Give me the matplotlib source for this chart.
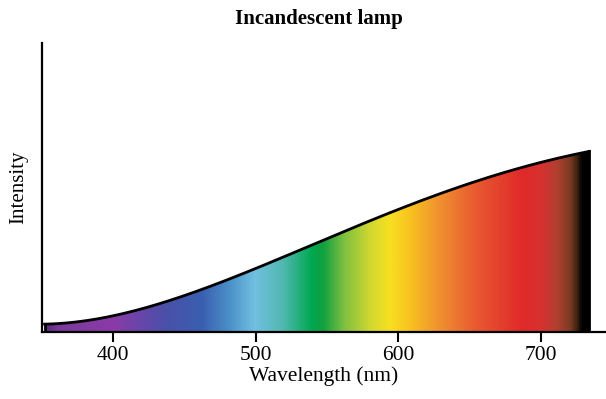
import numpy as np
import matplotlib.pyplot as plt
from matplotlib.colors import LinearSegmentedColormap

# spectrum curve (intensity in arbitrary units)
wavelength = [352, 380, 400, 426, 461, 496, 531, 566, 601, 636, 670, 700, 734]
intensity = [8, 11, 15, 27, 43, 60, 80, 104, 124, 142, 157, 169, 181]

# colour band across the spectrum
color_nm = [352, 361, 399, 436, 462, 481, 499, 519, 539, 547, 562, 580, 594,
            609, 629, 655, 687, 700, 712, 721, 726, 729, 734]
color_hex = ['#5a2a7a', '#7a3a9a', '#8a3aa8', '#4a50a8', '#3a5fb0', '#4a90c8',
             '#70c0e0', '#50b8b0', '#00a850', '#10a040', '#80c040', '#d0d830',
             '#f8e020', '#f8c020', '#f09030', '#e85830', '#e02a2a', '#d83030',
             '#b04030', '#7a3a22', '#3a2010', '#000000', '#000000']

xticks = [400, 500, 600, 700]

plt.rcParams['font.family'] = ['Liberation Serif', 'DejaVu Serif']

fig = plt.figure(figsize=(6.06, 3.99), dpi=100)
ax = fig.add_axes([42 / 606, 67 / 399, 564 / 606, 289 / 399])

xs = np.linspace(wavelength[0], wavelength[-1], 400)
# smooth curve through the read points
coef = np.polyfit(wavelength, intensity, 4)
ys = np.polyval(coef, xs)

pos = [(v - color_nm[0]) / (color_nm[-1] - color_nm[0]) for v in color_nm]
cmap = LinearSegmentedColormap.from_list('spec', list(zip(pos, color_hex)))

fill = ax.fill_between(xs, 0, ys, color='none', lw=0)
grad = np.linspace(0, 1, 1024).reshape(1, -1)
img = ax.imshow(grad, cmap=cmap, aspect='auto',
                extent=[wavelength[0], wavelength[-1], 0, max(intensity) + 5],
                origin='lower', zorder=1)
img.set_clip_path(fill.get_paths()[0], transform=ax.transData)

ax.plot(xs, ys, color='black', lw=2, zorder=3)
ax.plot([wavelength[-1], wavelength[-1]], [0, ys[-1]], color='black', lw=2, zorder=3)
ax.plot([wavelength[0], wavelength[0]], [0, ys[0]], color='black', lw=2, zorder=3)

ax.set_xlim(350.2, 745.8)
ax.set_ylim(0, 289)
ax.set_xticks(xticks)
ax.set_yticks([])
for s in ['top', 'right']:
    ax.spines[s].set_visible(False)
for s in ['left', 'bottom']:
    ax.spines[s].set_linewidth(1.6)
ax.tick_params(axis='x', direction='out', length=7, width=1.5, labelsize=15.5, pad=3)

ax.set_xlabel('Wavelength (nm)', fontsize=15.5, labelpad=1)
ax.set_ylabel('Intensity', fontsize=15, labelpad=10)
fig.text(0.527, 0.953, 'Incandescent lamp', ha='center', va='center',
         fontsize=15, fontweight='bold')

fig.savefig('out.png', dpi=100)
